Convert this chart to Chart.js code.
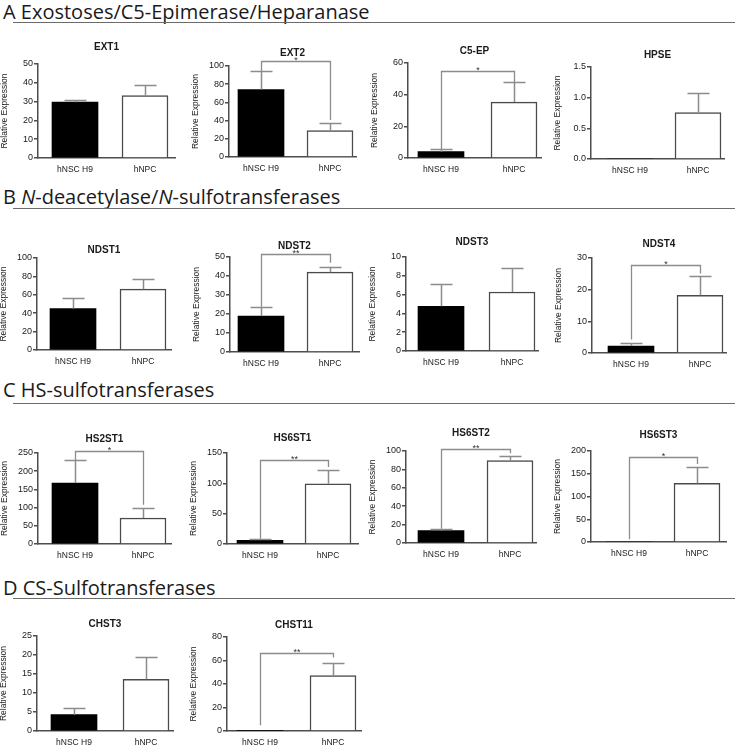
<!DOCTYPE html>
<html>
<head>
<meta charset="utf-8">
<script src="https://cdn.jsdelivr.net/npm/chart.js@4.4.0/dist/chart.umd.min.js"></script>
<style>
html,body{margin:0;padding:0;background:#fff;}
body{width:738px;height:748px;position:relative;overflow:hidden;}
.hdr{position:absolute;left:3px;font-family:"Open Sans",sans-serif;font-size:20px;color:#1a1a1a;line-height:20px;white-space:nowrap;}
.rule{position:absolute;left:13px;width:722px;height:0;border-top:1.5px solid #6b6b6b;}
canvas{position:absolute;}
</style>
</head>
<body>
<div class="hdr" style="top:2px">A Exostoses/C5-Epimerase/Heparanase</div>
<div class="rule" style="top:22px"></div>
<div class="hdr" style="top:187px">B <i>N</i>-deacetylase/<i>N</i>-sulfotransferases</div>
<div class="rule" style="top:208px"></div>
<div class="hdr" style="top:380px">C HS-sulfotransferases</div>
<div class="rule" style="top:403px"></div>
<div class="hdr" style="top:578px">D CS-Sulfotransferases</div>
<div class="rule" style="top:598px"></div>
<script>
// ---- data ----
const genes = ['EXT1','EXT2','C5-EP','HPSE','NDST1','NDST2','NDST3','NDST4','HS2ST1','HS6ST1','HS6ST2','HS6ST3','CHST3','CHST11'];
const categories = ['hNSC H9','hNPC'];
const hNSC_H9 = [29.7, 74.2, 4.0, 0, 45.1, 18.9, 4.76, 2.2, 167.6, 6.0, 13.5, 0, 4.3, 0.5];
const hNSC_H9_err = [1.3, 20.0, 1.7, 0, 11.2, 4.9, 2.34, 1.1, 62.1, 2.2, 2.1, 0, 1.8, 0];
const hNPC = [33.2, 29.1, 35.3, 0.755, 66.1, 42.0, 6.28, 18.2, 71.4, 99.3, 89.5, 129.0, 13.6, 47.1];
const hNPC_err = [5.8, 8.0, 12.7, 0.323, 11.6, 2.7, 2.52, 6.0, 27.5, 22.0, 5.4, 35.1, 5.9, 10.7];
const yMax = [50, 100, 60, 1.5, 100, 50, 10, 30, 250, 150, 100, 200, 25, 80];
const yStep = [10, 20, 20, 0.5, 20, 10, 2, 10, 50, 50, 20, 50, 5, 20];
const sigLabel = [null, '*', '*', null, null, '**', null, '*', '*', '**', '**', '*', null, '**'];
const bracketLevel = [null, 105, 55.1, null, null, 51.6, null, 27.9, 256, 138.9, 102.5, 186.1, null, 66.8];
const bracketLeftEnd = [null, 94.2, 5.7, null, null, 23.8, null, 4.3, 229.7, 8.8, 15.6, 5.9, null, 5];
const bracketRightEnd = [null, 40.6, 48, null, null, 47, null, 25.1, 108, 126.9, 97.5, 171.4, null, 62.6];

// ---- layout (pixels): [axisX, centre0, centre1, axisRight, plotTop, plotBottom, titleGap] ----
const panelBox = [
  [38, 75, 145, 175, 64, 158, 17],
  [229, 261, 330, 356, 66, 157, 13],
  [408, 441, 514, 541, 63, 158, 12],
  [591, 630, 698, 724, 67, 159, 12],
  [37, 73, 143, 171, 258, 350, 8],
  [230, 261, 330, 359, 257, 352, 11],
  [406, 441, 512, 538, 257, 351, 15],
  [592, 631, 700, 726, 258, 353, 14],
  [38, 75, 143, 171, 453, 544, 14],
  [227, 260, 328, 358, 453, 544, 15],
  [406, 441, 510, 536, 451, 543, 18],
  [591, 629, 697, 726, 451, 542, 16],
  [37, 74, 146, 173, 636, 731, 12],
  [227, 260, 333, 361, 637, 731, 12]
];
const FONT = "'Liberation Sans', Arial, sans-serif";
const AXIS = '#4d4d4d';
const WHISK = '#8c8c8c';
const T = 34, XH = 22, YW = 40;

genes.forEach((gene, i) => {
  const [ax, c0, c1, right, top, bottom, gap] = panelBox[i];
  const left = ax - YW;
  const w = right - left + 4, h = T + (bottom - top) + XH;
  const cv = document.createElement('canvas');
  cv.width = w; cv.height = h;
  cv.style.left = left + 'px'; cv.style.top = (top - T) + 'px';
  cv.style.width = w + 'px'; cv.style.height = h + 'px';
  document.body.appendChild(cv);
  const unit = c1 - c0;
  const pb = gap - 6, pt = T - 12 - pb;
  const means = [hNSC_H9[i], hNPC[i]];
  const errs = [hNSC_H9_err[i], hNPC_err[i]];
  const dec = yStep[i] < 1 ? 1 : 0;

  const extras = {
    id: 'extras' + i,
    afterDraw(chart) {
      const ctx = chart.ctx, xs = chart.scales.x, ys = chart.scales.y;
      ctx.save();
      ctx.strokeStyle = WHISK; ctx.lineWidth = 1.5; ctx.lineCap = 'butt';
      for (let k = 0; k < 2; k++) {
        if (!(errs[k] > 0)) continue;
        const x = Math.round(xs.getPixelForValue(k)) + 0.5;
        const y0 = ys.getPixelForValue(means[k]);
        const y1 = Math.round(ys.getPixelForValue(means[k] + errs[k])) + 0.5;
        ctx.beginPath();
        ctx.moveTo(x, y0); ctx.lineTo(x, y1);
        ctx.moveTo(x - 11, y1); ctx.lineTo(x + 11, y1);
        ctx.stroke();
      }
      if (sigLabel[i]) {
        const xa = Math.round(xs.getPixelForValue(0)) + 0.5;
        const xb = Math.round(xs.getPixelForValue(1)) + 0.5;
        const yb = Math.round(ys.getPixelForValue(bracketLevel[i])) + 0.5;
        ctx.lineWidth = 1.3;
        ctx.beginPath();
        ctx.moveTo(xa, ys.getPixelForValue(bracketLeftEnd[i]));
        ctx.lineTo(xa, yb); ctx.lineTo(xb, yb);
        ctx.lineTo(xb, ys.getPixelForValue(bracketRightEnd[i]));
        ctx.stroke();
        ctx.fillStyle = '#333';
        ctx.font = '9px ' + FONT;
        ctx.textAlign = 'center'; ctx.textBaseline = 'alphabetic';
        ctx.fillText(sigLabel[i], (xa + xb) / 2, yb + 1);
      }
      ctx.restore();
    }
  };

  new Chart(cv, {
    type: 'bar',
    data: {
      datasets: [{
        data: means.map((v, k) => ({ x: k, y: v })),
        backgroundColor: ['#000000', '#ffffff'],
        borderColor: ['#000000', '#4a4a4a'],
        borderWidth: [0, 1.5],
        barThickness: 46
      }]
    },
    options: {
      responsive: false,
      devicePixelRatio: 1,
      animation: false,
      events: [],
      layout: { padding: { left: 0, right: 4, top: 0, bottom: 0 } },
      plugins: {
        legend: { display: false },
        tooltip: { enabled: false },
        title: {
          display: true, text: gene, fullSize: false, color: '#1a1a1a',
          font: { family: FONT, size: 10, weight: 'bold' },
          padding: { top: pt, bottom: pb }
        }
      },
      scales: {
        x: {
          type: 'linear', bounds: 'data', z: 1, offset: false,
          min: (ax - c0) / unit, max: 1 + (right - c1) / unit,
          afterBuildTicks: (s) => { s.ticks = [{ value: 0 }, { value: 1 }]; },
          afterFit: (s) => { s.height = XH; },
          grid: { display: true, offset: false, drawOnChartArea: false, drawTicks: false },
          border: { display: true, color: AXIS, width: 1.5 },
          ticks: {
            autoSkip: false, maxRotation: 0, padding: 7, color: '#1a1a1a',
            font: { family: FONT, size: 8.5 },
            callback: (v) => categories[v]
          }
        },
        y: {
          min: 0, max: yMax[i], z: 1,
          afterFit: (s) => { s.width = YW; },
          grid: { display: true, drawOnChartArea: false, drawTicks: true, tickLength: 4, color: AXIS, lineWidth: 1.5 },
          border: { display: true, color: AXIS, width: 1.5 },
          ticks: {
            stepSize: yStep[i], padding: 1, color: '#1a1a1a',
            font: { family: FONT, size: 9 },
            callback: (v) => Number(v).toFixed(dec)
          },
          title: {
            display: true, text: 'Relative Expression', color: '#1a1a1a',
            font: { family: FONT, size: 8.5 }, padding: { top: 2, bottom: 0 }
          }
        }
      }
    },
    plugins: [extras]
  });
});
</script>
</body>
</html>
